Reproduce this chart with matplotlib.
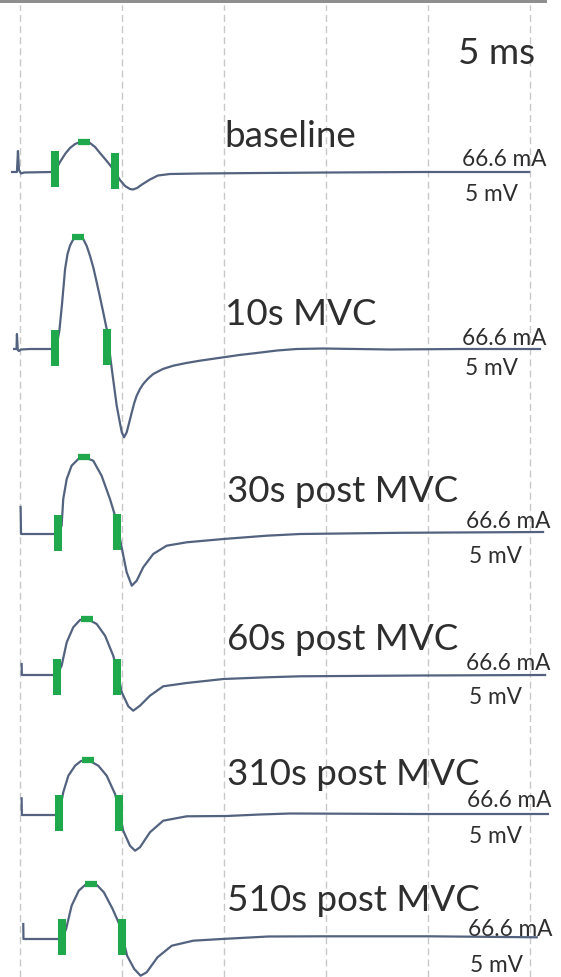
import matplotlib
matplotlib.use("Agg")
import matplotlib.pyplot as plt

W, H, DPI = 561, 978, 100

# ---------------- data (time in ms, amplitude in mV) ----------------
labels = ["baseline", "10s MVC", "30s post MVC", "60s post MVC",
          "310s post MVC", "510s post MVC"]
time_scale_label = "5 ms"
stim_label = "66.6 mA"
amp_label = "5 mV"
grid_times = [0, 5, 10, 15, 20, 25]

t_baseline = [-0.39, -0.15, -0.10, -0.05, 0.05, 0.20, 1.57, 1.72, 1.96, 2.21, 2.45,
              2.70, 2.94, 3.19, 3.43, 3.68, 3.92, 4.17, 4.41, 4.66, 4.90, 5.15,
              5.39, 5.54, 5.74, 5.98, 6.37, 6.76, 7.35, 8.82, 11.76, 15.2, 19.6, 24.95]
v_baseline = [0.0, 0.0, 2.1, 0.2, -0.15, -0.05, 0.0, 0.1, 1.0, 1.8, 2.4,
              2.8, 3.0, 3.05, 2.9, 2.5, 1.9, 1.3, 0.7, 0.0, -0.8, -1.4,
              -1.7, -1.75, -1.6, -1.25, -0.75, -0.35, -0.2, -0.15, -0.1, -0.05, 0.0, 0.0]

t_10s = [-0.29, -0.17, -0.15, -0.11, -0.05, 0.05, 0.49, 1.57, 1.81, 1.93, 2.06,
         2.21, 2.33, 2.45, 2.58, 2.70, 2.83, 2.97, 3.10, 3.27, 3.43, 3.60, 3.76,
         3.92, 4.08, 4.25, 4.50, 4.74, 4.90, 4.99, 5.10, 5.23, 5.36, 5.48, 5.60,
         5.72, 5.88, 6.04, 6.28, 6.53, 7.00, 7.51, 8.15, 8.82, 9.90, 10.75, 11.60,
         12.60, 13.56, 14.85, 18.14, 21.57, 25.49]
v_10s = [0.0, 0.0, 1.5, -0.1, -0.2, -0.05, 0.0, 0.0, 0.5, 1.83, 4.5,
         8.0, 9.5, 10.33, 10.85, 11.17, 11.27, 11.2, 11.0, 10.3, 9.33, 8.1, 6.67,
         5.2, 3.67, 2.0, -2.0, -5.67, -7.4, -8.33, -8.83, -8.33, -7.3, -6.33, -5.4,
         -4.67, -4.0, -3.5, -2.95, -2.5, -2.0, -1.67, -1.4, -1.17, -0.85, -0.6, -0.4,
         -0.15, 0.0, 0.05, -0.05, 0.0, 0.0]

t_30s = [0.03, 0.05, 0.49, 1.67, 1.86, 2.04, 2.12, 2.29, 2.53, 2.86, 3.15, 3.59,
         4.00, 4.41, 4.66, 4.90, 5.23, 5.48, 5.72, 6.04, 6.53, 7.19, 8.17, 9.97,
         12.09, 13.73, 18.63, 25.64]
v_30s = [2.7, 0.0, 0.0, 0.0, 0.0, 0.83, 3.5, 5.5, 6.83, 7.5, 7.67, 7.33,
         5.83, 3.5, 1.83, -0.5, -3.83, -5.17, -4.67, -3.33, -2.0, -1.17, -0.83, -0.5,
         -0.17, 0.0, 0.12, 0.2]

t_60s = [0.08, 0.09, 1.62, 1.81, 2.04, 2.29, 2.61, 2.94, 3.24, 3.76, 4.17, 4.57,
         4.75, 4.99, 5.31, 5.55, 5.88, 6.37, 7.02, 8.17, 9.97, 12.09, 13.73, 19.6, 25.74]
v_60s = [1.1, 0.0, 0.0, 0.0, 0.93, 3.27, 4.77, 5.5, 5.67, 5.1, 3.93, 1.93,
         0.6, -1.73, -3.13, -3.57, -3.07, -2.07, -1.13, -0.8, -0.4, -0.23, -0.13, -0.05, 0.0]

t_310s = [0.08, 0.09, 1.72, 1.91, 2.12, 2.37, 2.70, 2.99, 3.32, 3.84, 4.25, 4.66,
          4.85, 5.06, 5.39, 5.64, 5.88, 6.37, 7.02, 8.17, 10.13, 11.76, 13.24,
          19.6, 25.88]
v_310s = [1.67, 0.0, 0.0, 0.0, 2.27, 3.93, 4.93, 5.4, 5.53, 4.93, 3.93, 2.1,
          0.6, -1.57, -3.07, -3.57, -3.23, -1.73, -0.57, -0.13, -0.1, 0.05, 0.15,
          0.1, 0.1]

t_510s = [0.16, 0.17, 1.82, 2.06, 2.26, 2.53, 2.88, 3.19, 3.49, 3.77, 4.11, 4.54,
          4.90, 5.05, 5.25, 5.60, 5.91, 6.21, 6.74, 7.44, 8.49, 9.89, 12.17, 14.80,
          20.06, 25.33]
v_510s = [1.5, 0.0, 0.0, 0.0, 1.0, 3.33, 4.83, 5.4, 5.6, 5.4, 4.67, 3.0,
          1.33, 0.0, -1.67, -3.0, -3.67, -3.33, -1.83, -0.67, -0.17, 0.0, 0.25, 0.27,
          0.27, 0.17]

traces_t = [t_baseline, t_10s, t_30s, t_60s, t_310s, t_510s]
traces_v = [v_baseline, v_10s, v_30s, v_60s, v_310s, v_510s]

# latency markers (onset, peak, offset)
onset_t = [1.72, 1.72, 1.84, 1.81, 1.91, 2.04]
onset_v = [0.3, 0.1, 0.15, -0.2, 0.2, 0.2]
peak_t = [3.16, 2.83, 3.16, 3.26, 3.33, 3.49]
peak_v = [3.0, 11.2, 7.67, 5.65, 5.5, 5.5]
offset_t = [4.66, 4.26, 4.75, 4.74, 4.85, 4.98]
offset_v = [0.1, 0.2, 0.2, -0.2, 0.2, 0.2]

# ---------------- layout (pixels) ----------------
X0_PX = 20.0
PX_PER_MS = 20.4
PX_PER_MV = 10.0
trace_base_px = [173, 350, 535, 676, 816, 940]
label_pos_px = [(224, 147), (225, 325), (227, 502), (227, 650), (227, 785), (227, 911)]
stim_pos_px = [(462, 166), (462, 345), (466, 528), (466, 670), (467, 807), (468, 936)]
amp_pos_px = [(465, 201), (465, 375), (469, 563), (469, 704), (469, 843), (470, 972)]
scale_pos_px = (458, 64)

TRACE_COLOR = "#52627f"
GREEN = "#1fa84c"
TEXT_COLOR = "#2e2e2e"
GRID_COLOR = "#c8c8c8"
FONT = ["Lato", "DejaVu Sans"]
BIG = 26.5
SMALL = 16.3


def px_x(x):
    return (x - X0_PX) / PX_PER_MS


def px_y(y):
    return -y / PX_PER_MV


fig = plt.figure(figsize=(W / DPI, H / DPI), dpi=DPI)
fig.patch.set_facecolor("white")
ax = fig.add_axes([0, 0, 1, 1])
ax.set_xlim(px_x(0), px_x(W))
ax.set_ylim(px_y(H), px_y(0))
ax.axis("off")

# top gray bar
ax.axhspan(px_y(3.5), px_y(0), xmin=0, xmax=547 / W, color="#8e8e8e", lw=0, zorder=1)

# dashed vertical grid
for gt in grid_times:
    ax.axvline(gt, ymin=0, ymax=1 - 6 / H, color=GRID_COLOR, lw=1.0,
               ls=(0, (5, 3)), zorder=1)

for i in range(len(labels)):
    off = px_y(trace_base_px[i])
    yy = [off + v for v in traces_v[i]]
    ax.plot(traces_t[i], yy, color=TRACE_COLOR, lw=1.6, zorder=3,
            solid_joinstyle="round", antialiased=True)
    ax.plot([onset_t[i], offset_t[i]], [off + onset_v[i], off + offset_v[i]],
            ls="none", marker="|", ms=26.6, mew=5.8, color=GREEN, zorder=4)
    ax.plot([peak_t[i]], [off + peak_v[i]], ls="none", marker="_", ms=8,
            mew=4.5, color=GREEN, zorder=4)

    lx, ly = label_pos_px[i]
    ax.text(px_x(lx), px_y(ly), labels[i], fontsize=BIG, family=FONT,
            color=TEXT_COLOR, va="baseline", ha="left", zorder=5)
    sx, sy = stim_pos_px[i]
    ax.text(px_x(sx), px_y(sy), stim_label, fontsize=SMALL, family=FONT,
            color=TEXT_COLOR, va="baseline", ha="left", zorder=5)
    mx, my = amp_pos_px[i]
    ax.text(px_x(mx), px_y(my), amp_label, fontsize=SMALL, family=FONT,
            color=TEXT_COLOR, va="baseline", ha="left", zorder=5)

ax.text(px_x(scale_pos_px[0]), px_y(scale_pos_px[1]), time_scale_label,
        fontsize=BIG, family=FONT, color=TEXT_COLOR, va="baseline", ha="left")

fig.savefig("out.png", dpi=DPI, facecolor="white")
